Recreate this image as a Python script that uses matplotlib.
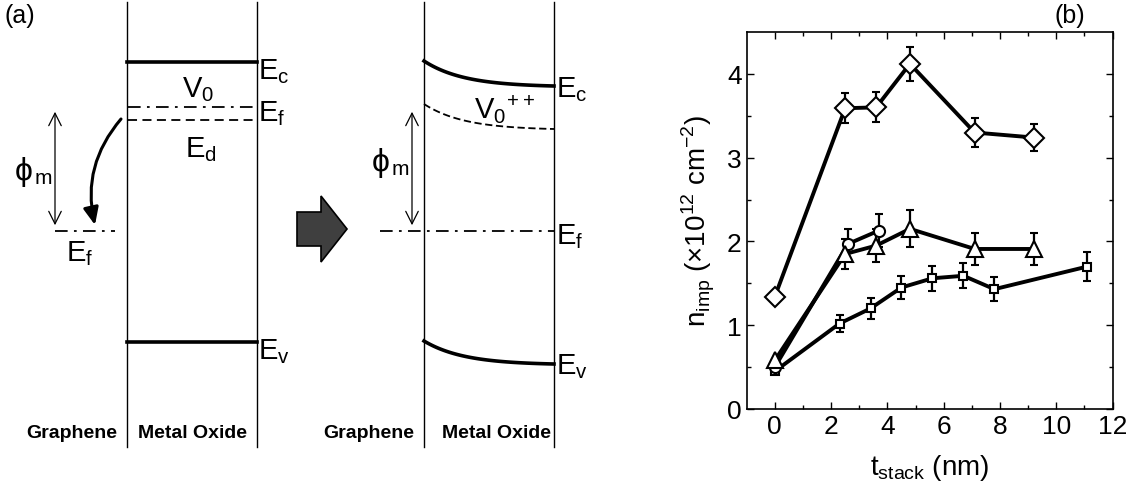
import matplotlib
matplotlib.use("Agg")
import matplotlib.pyplot as plt
from matplotlib.patches import FancyArrowPatch, FancyArrow
import numpy as np

plt.rcParams['font.family'] = ['Liberation Sans', 'DejaVu Sans']
plt.rcParams['mathtext.fontset'] = 'custom'
plt.rcParams['mathtext.rm'] = 'Liberation Sans'

# --- panel (b) data: impurity density vs stack thickness ---
diamond_x = [0.0, 2.5, 3.6, 4.8, 7.1, 9.2]
diamond_y = [1.34, 3.59, 3.60, 4.12, 3.30, 3.24]
diamond_err = [0.0, 0.18, 0.18, 0.20, 0.17, 0.16]

triangle_x = [0.0, 2.5, 3.6, 4.8, 7.1, 9.2]
triangle_y = [0.58, 1.85, 1.95, 2.15, 1.91, 1.91]
triangle_err = [0.0, 0.18, 0.20, 0.22, 0.19, 0.19]

circle_x = [0.0, 2.6, 3.7]
circle_y = [0.50, 1.97, 2.13]
circle_err = [0.0, 0.18, 0.20]

square_x = [0.0, 2.3, 3.4, 4.5, 5.6, 6.7, 7.8, 11.1]
square_y = [0.45, 1.02, 1.20, 1.45, 1.56, 1.59, 1.43, 1.70]
square_err = [0.0, 0.10, 0.12, 0.14, 0.15, 0.15, 0.14, 0.17]

# --- panel (a) band diagram levels (pixel rows) ---
left_walls = [127, 257]
right_walls = [424, 554]
ec_left, ef_left, ed_left, ev_left = 63, 108, 121, 343
ef_graphene = 232
ec_bent = (62, 87)
vo_bent = (105, 130)
ev_bent = (342, 365)

fig = plt.figure(figsize=(11.33, 5.02), dpi=100)
ax = fig.add_axes([0, 0, 1, 1])
ax.set_xlim(0, 1133)
ax.set_ylim(502, 0)
ax.axis('off')

band_lw = 2.6
thin = 1.0
dashdot = (7, 3.5, 1.5, 3.5)

# left diagram
for x in left_walls:
    ax.plot([x, x], [3, 448], color='black', lw=thin)
ax.plot(left_walls, [ec_left, ec_left], color='black', lw=band_lw)
ax.plot(left_walls, [ev_left, ev_left], color='black', lw=band_lw)
ax.plot([128, 255], [ef_left, ef_left], color='black', lw=1.3, dashes=dashdot)
ax.plot([128, 255], [ed_left, ed_left], color='black', lw=1.3, dashes=(5, 3))
ax.plot([55, 115], [ef_graphene, ef_graphene], color='black', lw=1.3, dashes=dashdot)

ax.add_patch(FancyArrowPatch((55, 110), (55, 229), arrowstyle='<->,head_length=6,head_width=3',
                             color='black', lw=0.9, mutation_scale=1.5))
ax.add_patch(FancyArrowPatch((121, 120), (95, 226), arrowstyle='-|>,head_length=8,head_width=3.5',
                             connectionstyle='arc3,rad=0.25', color='black', lw=2.2,
                             mutation_scale=1.3, shrinkA=0, shrinkB=0))

fs = 21
ax.text(258, 72, r'$\mathregular{E_c}$', fontsize=fs, va='center', ha='left')
ax.text(258, 114, r'$\mathregular{E_f}$', fontsize=fs, va='center', ha='left')
ax.text(258, 352, r'$\mathregular{E_v}$', fontsize=fs, va='center', ha='left')
ax.text(182, 90, r'$\mathregular{V_0}$', fontsize=fs, va='center', ha='left')
ax.text(185, 150, r'$\mathregular{E_d}$', fontsize=fs, va='center', ha='left')
ax.text(66, 254, r'$\mathregular{E_f}$', fontsize=fs, va='center', ha='left')
ax.text(15, 172, 'ϕ', fontsize=fs + 2, va='center', ha='left')
ax.text(35, 179, 'm', fontsize=fs - 6, va='center', ha='left')

# transition arrow
ax.add_patch(FancyArrow(297, 230, 50, 0, width=34, head_width=66, head_length=26,
                        length_includes_head=True, facecolor='#3f3f3f', edgecolor='black', lw=1.2))

# right diagram with bent bands
for x in right_walls:
    ax.plot([x, x], [3, 448], color='black', lw=thin)
xs = np.linspace(right_walls[0], right_walls[1], 100)
shape = 1 - np.exp(-(xs - xs[0]) / 40.0)
shape = shape / shape[-1]
ax.plot(xs, ec_bent[0] + (ec_bent[1] - ec_bent[0]) * shape, color='black', lw=band_lw)
ax.plot(xs, ev_bent[0] + (ev_bent[1] - ev_bent[0]) * shape, color='black', lw=band_lw)
ax.plot(xs, vo_bent[0] + (vo_bent[1] - vo_bent[0]) * shape, color='black', lw=1.3, dashes=(4, 2))
ax.plot([380, 554], [ef_graphene, ef_graphene], color='black', lw=1.3, dashes=dashdot)
ax.add_patch(FancyArrowPatch((412, 110), (412, 229), arrowstyle='<->,head_length=6,head_width=3',
                             color='black', lw=0.9, mutation_scale=1.5))

ax.text(556, 90, r'$\mathregular{E_c}$', fontsize=fs, va='center', ha='left')
ax.text(556, 237, r'$\mathregular{E_f}$', fontsize=fs, va='center', ha='left')
ax.text(556, 367, r'$\mathregular{E_v}$', fontsize=fs, va='center', ha='left')
ax.text(474, 110, r'$\mathregular{V_0{}^{++}}$', fontsize=fs, va='center', ha='left')
ax.text(372, 163, 'ϕ', fontsize=fs + 2, va='center', ha='left')
ax.text(392, 170, 'm', fontsize=fs - 6, va='center', ha='left')

for cx, label in [(72, 'Graphene'), (193, 'Metal Oxide'), (369, 'Graphene'), (497, 'Metal Oxide')]:
    ax.text(cx, 434, label, fontsize=14, fontweight='bold', ha='center', va='center')

ax.text(5, 16, '(a)', fontsize=18, va='center', ha='left')
ax.text(1054, 16, '(b)', fontsize=18, va='center', ha='left')

# --- panel (b) ---
bx = fig.add_axes([0.659, 0.1833, 0.323, 0.751])
style = dict(color='black', lw=2.8, mfc='white', mec='black', mew=1.5,
             ecolor='black', elinewidth=1.6, capsize=3, capthick=1.6)
bx.errorbar(square_x, square_y, yerr=square_err, marker='s', ms=6, **style)
bx.errorbar(circle_x, circle_y, yerr=circle_err, marker='o', ms=8, **style)
bx.errorbar(triangle_x, triangle_y, yerr=triangle_err, marker='^', ms=11, **style)
bx.errorbar(diamond_x, diamond_y, yerr=diamond_err, marker='D', ms=10, **style)

bx.set_xlim(-1, 12)
bx.set_ylim(0, 4.5)
bx.set_xticks(np.arange(0, 13, 2))
bx.set_xticks(np.arange(1, 12, 2), minor=True)
bx.set_yticks(np.arange(0, 5, 1))
bx.set_yticks(np.arange(0.5, 4.5, 1), minor=True)
bx.tick_params(which='both', direction='in', top=True, right=True, labelsize=19, width=1)
bx.tick_params(which='major', length=5)
bx.tick_params(which='minor', length=3)
for s in bx.spines.values():
    s.set_linewidth(1.2)
bx.set_xlabel(r'$\mathregular{t_{stack}}$ (nm)', fontsize=20, labelpad=10)
bx.set_ylabel(r'$\mathregular{n_{imp}}$ (×10$^{\mathregular{12}}$ cm$^{\mathregular{-2}}$)', fontsize=20, labelpad=8)

fig.savefig('out.png', dpi=100)
